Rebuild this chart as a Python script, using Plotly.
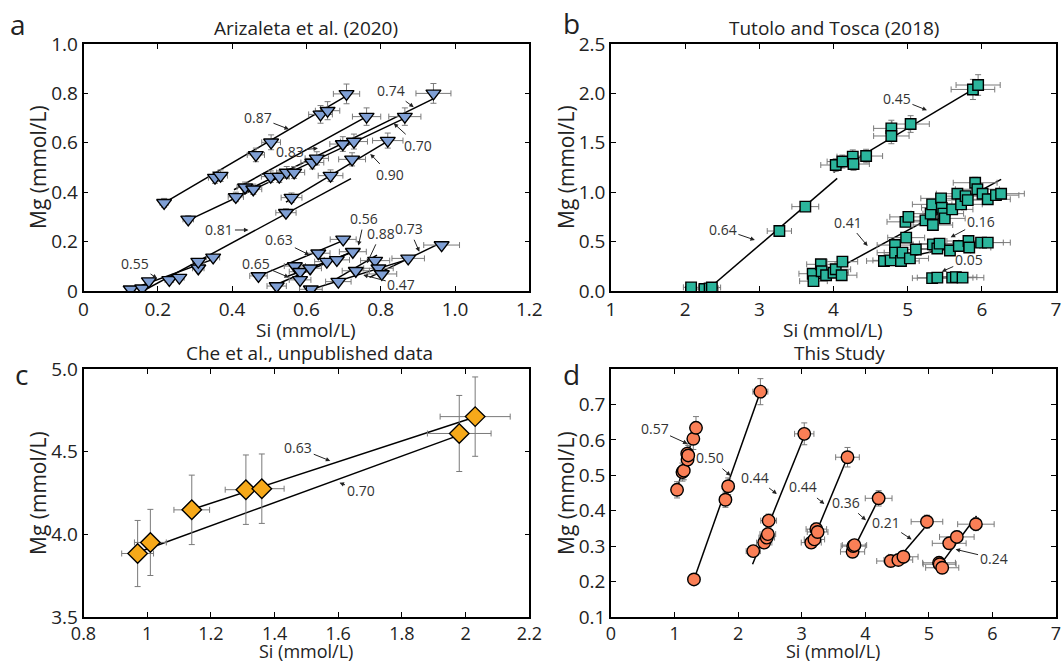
import plotly.graph_objects as go

# ---------------- DATA ----------------
# Panel a: Arizaleta et al. (2020)
a_si = [0.217, 0.354, 0.369, 0.464, 0.505, 0.638, 0.657, 0.708,
        0.282, 0.410, 0.435, 0.457, 0.504, 0.527, 0.547, 0.567, 0.616, 0.628, 0.698, 0.728, 0.762, 0.865, 0.942,
        0.560, 0.665, 0.723, 0.819, 0.545,
        0.127, 0.158, 0.176, 0.231, 0.258, 0.309, 0.309, 0.349,
        0.471, 0.520, 0.569, 0.583, 0.583, 0.610, 0.632, 0.655, 0.682, 0.699, 0.725,
        0.612, 0.686, 0.733, 0.785, 0.794, 0.803, 0.874, 0.964]
a_mg = [0.357, 0.459, 0.467, 0.551, 0.602, 0.715, 0.730, 0.798,
        0.290, 0.381, 0.420, 0.412, 0.463, 0.463, 0.480, 0.480, 0.520, 0.537, 0.595, 0.605, 0.706, 0.706, 0.800,
        0.378, 0.467, 0.533, 0.609, 0.317,
        0.007, 0.011, 0.040, 0.045, 0.054, 0.092, 0.119, 0.136,
        0.061, 0.020, 0.101, 0.078, 0.045, 0.092, 0.153, 0.119, 0.126, 0.209, 0.159,
        0.007, 0.038, 0.082, 0.123, 0.092, 0.069, 0.132, 0.186]
a_fit_x0 = [0.217, 0.405, 0.280, 0.430, 0.545, 0.160, 0.125, 0.471, 0.510, 0.550, 0.670, 0.610, 0.770]
a_fit_y0 = [0.357, 0.410, 0.285, 0.400, 0.360, 0.000, 0.005, 0.060, 0.020, 0.060, 0.040, 0.005, 0.055]
a_fit_x1 = [0.708, 0.762, 0.865, 0.944, 0.819, 0.720, 0.350, 0.700, 0.725, 0.730, 0.790, 0.860, 0.962]
a_fit_y1 = [0.790, 0.706, 0.700, 0.780, 0.607, 0.455, 0.129, 0.205, 0.160, 0.161, 0.145, 0.122, 0.195]
a_lbl = ["0.87", "0.74", "0.70", "0.83", "0.90", "0.81", "0.55", "0.63", "0.65", "0.56", "0.88", "0.73", "0.47"]
a_tip_x = [0.553, 0.889, 0.835, 0.631, 0.772, 0.444, 0.198, 0.608, 0.553, 0.740, 0.763, 0.904, 0.753]
a_tip_y = [0.655, 0.744, 0.679, 0.578, 0.555, 0.247, 0.051, 0.146, 0.055, 0.184, 0.112, 0.159, 0.065]

# Panel b: Tutolo and Tosca (2018)
b_si = [2.08, 2.26, 2.33, 2.36, 3.27, 3.62, 4.03, 4.12, 4.26, 4.27, 4.44, 4.78, 4.78, 5.04, 5.88, 5.95,
        3.72, 3.73, 3.83, 3.84, 3.90, 4.00, 4.03, 4.12, 4.11,
        4.68, 4.77, 4.83, 4.83, 4.91, 4.93, 4.98, 5.03, 5.11,
        4.97, 5.01, 5.24, 5.31, 5.33, 5.34, 5.34, 5.40, 5.43,
        5.45, 5.46, 5.48, 5.50, 5.60, 5.57, 5.67, 5.69, 5.72,
        5.78, 5.81, 5.82, 5.83, 5.91, 5.94, 6.01, 6.08, 5.99, 6.08, 6.19, 6.26,
        5.33, 5.40, 5.60, 5.65, 5.74]
b_mg = [0.037, 0.020, 0.027, 0.035, 0.607, 0.854, 1.275, 1.310, 1.360, 1.285, 1.366, 1.646, 1.569, 1.690, 2.040, 2.085,
        0.175, 0.100, 0.270, 0.200, 0.160, 0.185, 0.220, 0.297, 0.160,
        0.304, 0.310, 0.465, 0.388, 0.304, 0.388, 0.540, 0.330, 0.420,
        0.700, 0.750, 0.715, 0.783, 0.877, 0.668, 0.472, 0.430, 0.480,
        0.938, 0.843, 0.783, 0.735, 0.826, 0.410, 0.985, 0.455, 0.877,
        0.960, 0.920, 0.506, 0.440, 1.096, 1.030, 0.985, 0.928, 0.490, 0.490, 0.970, 0.985,
        0.130, 0.135, 0.135, 0.140, 0.135]
b_fit_x0 = [2.28, 4.00, 3.72, 4.65, 5.30]
b_fit_y0 = [0.00, 1.20, 0.09, 0.29, 0.13]
b_fit_x1 = [4.05, 5.95, 6.26, 6.10, 5.80]
b_fit_y1 = [1.14, 2.07, 1.13, 0.52, 0.155]
b_lbl = ["0.64", "0.45", "0.41", "0.16", "0.05"]
b_tip_x = [2.94, 5.26, 4.46, 5.58, 5.46]
b_tip_y = [0.516, 1.83, 0.455, 0.543, 0.196]

# Panel c: Che et al., unpublished data
c_si = [0.97, 1.01, 1.14, 1.31, 1.36, 1.98, 2.03]
c_mg = [3.884, 3.951, 4.148, 4.270, 4.276, 4.610, 4.712]
c_si_err = [0.05, 0.05, 0.056, 0.065, 0.07, 0.10, 0.11]
c_mg_err = [0.20, 0.20, 0.21, 0.21, 0.21, 0.23, 0.24]
c_fit_x0 = [1.14, 0.97]
c_fit_y0 = [4.15, 3.89]
c_fit_x1 = [2.03, 1.98]
c_fit_y1 = [4.71, 4.60]
c_lbl = ["0.63", "0.70"]
c_tip_x = [1.575, 1.604]
c_tip_y = [4.444, 4.312]

# Panel d: This Study
d_si = [1.039, 1.124, 1.145, 1.199, 1.204, 1.215, 1.295, 1.337,
        1.305, 1.800, 1.843, 2.350,
        2.238, 2.410, 2.450, 2.467, 2.480, 3.040,
        3.150, 3.200, 3.230, 3.250, 3.720,
        3.800, 3.810, 3.830, 4.210,
        4.400, 4.520, 4.600, 4.970,
        5.160, 5.170, 5.210, 5.320, 5.440, 5.740]
d_mg = [0.459, 0.509, 0.513, 0.561, 0.544, 0.556, 0.603, 0.634,
        0.206, 0.431, 0.469, 0.736,
        0.286, 0.310, 0.324, 0.334, 0.372, 0.617,
        0.310, 0.319, 0.348, 0.340, 0.551,
        0.284, 0.300, 0.303, 0.435,
        0.258, 0.261, 0.270, 0.369,
        0.253, 0.249, 0.239, 0.308, 0.326, 0.362]
d_fit_x0 = [1.06, 1.305, 2.227, 3.15, 3.80, 4.45, 5.15]
d_fit_y0 = [0.475, 0.206, 0.249, 0.305, 0.286, 0.250, 0.240]
d_fit_x1 = [1.33, 2.35, 3.04, 3.72, 4.21, 4.97, 5.75]
d_fit_y1 = [0.630, 0.736, 0.610, 0.551, 0.433, 0.360, 0.385]
d_lbl = ["0.57", "0.50", "0.44", "0.44", "0.36", "0.21", "0.24"]
d_tip_x = [1.204, 1.881, 2.61, 3.356, 4.01, 4.73, 5.42]
d_tip_y = [0.589, 0.499, 0.447, 0.419, 0.373, 0.319, 0.291]

# tick labels
a_xticks = [0, 0.2, 0.4, 0.6, 0.8, 1.0, 1.2]
a_xtext = ["0", "0.2", "0.4", "0.6", "0.8", "1.0", "1.2"]
a_yticks = [0, 0.2, 0.4, 0.6, 0.8, 1.0]
a_ytext = ["0", "0.2", "0.4", "0.6", "0.8", "1.0"]
b_xticks = [1, 2, 3, 4, 5, 6, 7]
b_xtext = ["1", "2", "3", "4", "5", "6", "7"]
b_yticks = [0, 0.5, 1.0, 1.5, 2.0, 2.5]
b_ytext = ["0.0", "0.5", "1.0", "1.5", "2.0", "2.5"]
c_xticks = [0.8, 1.0, 1.2, 1.4, 1.6, 1.8, 2.0, 2.2]
c_xtext = ["0.8", "1", "1.2", "1.4", "1.6", "1.8", "2", "2.2"]
c_yticks = [3.5, 4.0, 4.5, 5.0]
c_ytext = ["3.5", "4.0", "4.5", "5.0"]
d_xticks = [0, 1, 2, 3, 4, 5, 6, 7]
d_xtext = ["0", "1", "2", "3", "4", "5", "6", "7"]
d_yticks = [0.1, 0.2, 0.3, 0.4, 0.5, 0.6, 0.7]
d_ytext = ["0.1", "0.2", "0.3", "0.4", "0.5", "0.6", "0.7"]

# ---------------- FIGURE ----------------
W, H = 1063, 664
FONT = "Open Sans"
fig = go.Figure()


def px(x):
    return x / W


def py(y):
    return 1 - y / H


def add_panel(xa, ya, si, mg, ex, ey, symbol, color, size, fx0, fy0, fx1, fy1):
    for i in range(len(fx0)):
        fig.add_trace(go.Scatter(x=[fx0[i], fx1[i]], y=[fy0[i], fy1[i]], mode="lines",
                                 line=dict(color="black", width=1.5), xaxis=xa, yaxis=ya,
                                 showlegend=False, hoverinfo="skip"))
    fig.add_trace(go.Scatter(x=si, y=mg, mode="markers",
                             marker=dict(symbol=symbol, color=color, size=size,
                                         line=dict(color="black", width=1.4)),
                             error_x=ex, error_y=ey, xaxis=xa, yaxis=ya, showlegend=False))


def perr(v):
    return dict(type="percent", value=v, color="#7a7a7a", thickness=1, width=3)


add_panel("x", "y", a_si, a_mg, perr(5), perr(5), "triangle-down", "#7f9fd4", 13,
          a_fit_x0, a_fit_y0, a_fit_x1, a_fit_y1)
add_panel("x2", "y2", b_si, b_mg, perr(5), perr(5), "square", "#2bb59c", 10.5,
          b_fit_x0, b_fit_y0, b_fit_x1, b_fit_y1)
add_panel("x3", "y3", c_si, c_mg,
          dict(type="data", array=c_si_err, color="#7a7a7a", thickness=1, width=3),
          dict(type="data", array=c_mg_err, color="#7a7a7a", thickness=1, width=3),
          "diamond", "#f6a91a", 15, c_fit_x0, c_fit_y0, c_fit_x1, c_fit_y1)
add_panel("x4", "y4", d_si, d_mg, perr(5), perr(5), "circle", "#fa7f56", 12.5,
          d_fit_x0, d_fit_y0, d_fit_x1, d_fit_y1)

XL = [px(83.5), px(529.3)]
XR = [px(611), px(1056)]
YT = [py(291), py(44)]
YB = [py(617), py(369)]


def ax_style(dom, anchor, rng, tv, tt, fs=19):
    return dict(domain=dom, anchor=anchor, range=rng, tickvals=tv, ticktext=tt,
                automargin=False,
                showline=True, linecolor="black", linewidth=1.5, mirror="ticks",
                ticks="inside", ticklen=5, tickwidth=1.3, tickcolor="black",
                showgrid=False, zeroline=False,
                tickfont=dict(family=FONT, size=fs, color="#222"))


layout = dict(
    template="none",
    width=W, height=H, autosize=False,
    margin=dict(l=0, r=0, t=0, b=0, pad=0, autoexpand=False),
    paper_bgcolor="white", plot_bgcolor="white", showlegend=False,
    xaxis=ax_style(XL, "y", [0, 1.2], a_xticks, a_xtext),
    yaxis=ax_style(YT, "x", [0, 1.0], a_yticks, a_ytext),
    xaxis2=ax_style(XR, "y2", [1, 7], b_xticks, b_xtext),
    yaxis2=ax_style(YT, "x2", [0, 2.5], b_yticks, b_ytext),
    xaxis3=ax_style(XL, "y3", [0.8, 2.2], c_xticks, c_xtext, 18),
    yaxis3=ax_style(YB, "x3", [3.5, 5.0], c_yticks, c_ytext),
    xaxis4=ax_style(XR, "y4", [0, 7], d_xticks, d_xtext, 18),
    yaxis4=ax_style(YB, "x4", [0.1, 0.8], d_yticks, d_ytext),
)
fig.update_layout(**layout)

ann = []


def txt(x, y, s, size=19, angle=0):
    ann.append(dict(x=px(x), y=py(y), xref="paper", yref="paper", text=s, showarrow=False,
                    textangle=angle, xanchor="center", yanchor="middle",
                    font=dict(family=FONT, size=size, color="#222")))


# panel titles
txt(306, 28, "Arizaleta et al. (2020)")
txt(834, 28, "Tutolo and Tosca (2018)")
txt(309, 353, "Che et al., unpublished data")
txt(839, 353, "This Study")
# panel letters
txt(18, 24, "a", 28)
txt(571, 23, "b", 28)
txt(21, 374, "c", 28)
txt(571, 374, "d", 28)
# axis titles
for xc in (306, 833):
    txt(xc, 330, "Si (mmol/L)", 19)
    txt(xc, 651, "Si (mmol/L)", 18)
for xc in (38, 566):
    txt(xc, 167, "Mg (mmol/L)", 21, -90)
    txt(xc, 493, "Mg (mmol/L)", 21, -90)

# slope labels with arrows
a_dx = [-31, -23, 24, -28, 20, -29, -22, -30, -33, 6, 14, -10, 38]
a_dy = [-12, -17, 22, 3, 21, 0, -15, -15, -14, -27, -30, -23, 10]
b_dx = [-32, -30, -20, 30, 27]
b_dy = [-11, -12, -24, -16, -12]
c_dx = [-32, 21]
c_dy = [-13, 8]
d_dx = [-33, -21, -22, -21, -20, -26, 38]
d_dy = [-15, -18, -17, -17, -18, -17, 9]


def arrows(xa, ya, lbl, tx, ty, dx, dy):
    for i in range(len(lbl)):
        ann.append(dict(x=tx[i], y=ty[i], xref=xa, yref=ya, text=lbl[i], showarrow=True,
                        ax=dx[i], ay=dy[i], arrowhead=2, arrowsize=0.9, arrowwidth=1,
                        arrowcolor="#222", standoff=0,
                        font=dict(family=FONT, size=14, color="#333")))


arrows("x", "y", a_lbl, a_tip_x, a_tip_y, a_dx, a_dy)
arrows("x2", "y2", b_lbl, b_tip_x, b_tip_y, b_dx, b_dy)
arrows("x3", "y3", c_lbl, c_tip_x, c_tip_y, c_dx, c_dy)
arrows("x4", "y4", d_lbl, d_tip_x, d_tip_y, d_dx, d_dy)

fig.update_layout(annotations=ann)
fig.write_html("out.html", config={"displayModeBar": False},
               post_script="document.body.style.margin='0';")
